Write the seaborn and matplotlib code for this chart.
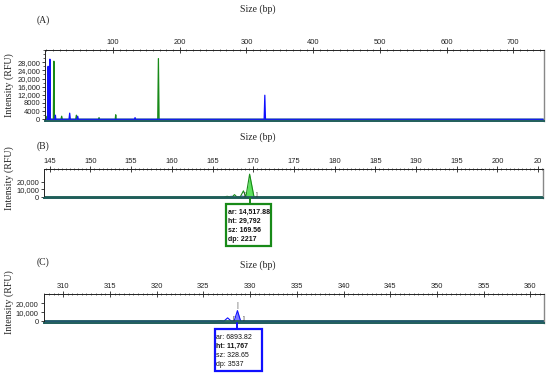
import matplotlib.pyplot as plt
import seaborn as sns
from matplotlib.patches import Rectangle
from matplotlib.lines import Line2D
from matplotlib.ticker import MultipleLocator, FixedLocator

# --- data ---
# panel A: whole run
a_blue_x = [-1, 2.0, 2.7, 3.4, 4.6, 5.3, 6.0, 13.0, 13.6, 14.2, 34.0, 35.0, 36.0, 46.0, 47.0, 48.0,
            132.0, 133.0, 134.0, 326.5, 327.5, 328.5, 745]
a_blue_y = [0, 0, 26000, 0, 0, 29500, 0, 0, 2000, 0, 0, 3000, 0, 0, 1500, 0,
            0, 800, 0, 0, 11800, 0, 0]
a_green_x = [-1, 0.5, 1.2, 2.0, 10.5, 11.3, 12.1, 22.0, 23.0, 24.0, 44.0, 45.0, 46.0, 78.0, 79.0, 80.0,
             103.3, 104.0, 104.7, 167.0, 168.0, 169.0, 745]
a_green_y = [0, 0, 1500, 0, 0, 28500, 0, 0, 1500, 0, 0, 2000, 0, 0, 800, 0,
             0, 2200, 0, 0, 29800, 0, 0]
a_yticks = [0, 4000, 8000, 12000, 16000, 20000, 24000, 28000]
a_yticklabels = ["0", "4000", "8000", "12,000", "16,000", "20,000", "24,000", "28,000"]
a_xticks = [100, 200, 300, 400, 500, 600, 700]

# panel B: green allele zoom
b_green_x = [144.3, 166.4, 166.8, 167.2, 167.4, 167.7, 168.0, 168.4, 168.8, 169.1, 169.56, 170.1, 205.6]
b_green_y = [0, 0, 900, 0, 0, 3100, 0, 0, 8000, 0, 29792, 0, 0]
b_blue_x = [144.3, 166.9, 167.3, 167.7, 168.3, 168.7, 169.0, 205.6]
b_blue_y = [0, 0, 1200, 0, 0, 1500, 0, 0]
b_peak_x = [169.1, 169.56, 170.1]
b_peak_y = [0, 29792, 0]
b_xticks = [145, 150, 155, 160, 165, 170, 175, 180, 185, 190, 195, 200, 205]
b_xticklabels = ["145", "150", "155", "160", "165", "170", "175", "180", "185", "190", "195", "200", "20"]
b_info = ["ar: 14,517.88", "ht: 29,792", "sz: 169.56", "dp: 2217"]

# panel C: blue allele zoom
c_blue_x = [307.9, 327.2, 327.6, 328.0, 328.3, 328.65, 329.0, 361.5]
c_blue_y = [0, 0, 3700, 0, 0, 11767, 0, 0]
c_green_x = [307.9, 326.4, 326.8, 327.2, 361.5]
c_green_y = [0, 0, 600, 0, 0]
c_peak_x = [328.3, 328.65, 329.0]
c_peak_y = [0, 11767, 0]
c_xticks = [310, 315, 320, 325, 330, 335, 340, 345, 350, 355, 360]
c_info = ["ar: 6893.82", "ht: 11,767", "sz: 328.65", "dp: 3537"]
bc_yticks = [0, 10000, 20000]
bc_yticklabels = ["0", "10,000", "20,000"]

BLUE = "#1010ff"
GREEN = "#188a18"
TEAL = "#1f5d5a"
W, H = 550, 376

sns.set_style("white")
plt.rcParams['font.family'] = ['Liberation Sans', 'DejaVu Sans']
fig = plt.figure(figsize=(W / 100, H / 100), dpi=100)


def make_axes(left, top, right, bottom):
    # pixel box (from top-left) -> figure fraction
    return fig.add_axes([left / W, 1 - bottom / H, (right - left) / W, (bottom - top) / H])


def style_axes(ax, xlim, ylim, xticks, xminor, yticks, ylabels, yminor=None, xlabels=None):
    ax.set_xlim(*xlim)
    ax.set_ylim(*ylim)
    ax.xaxis.tick_top()
    ax.xaxis.set_major_locator(FixedLocator(xticks))
    ax.xaxis.set_minor_locator(MultipleLocator(xminor))
    if xlabels is not None:
        ax.set_xticklabels(xlabels)
    ax.set_yticks(yticks)
    ax.set_yticklabels(ylabels)
    if yminor:
        ax.yaxis.set_minor_locator(MultipleLocator(yminor))
    ax.tick_params(axis='x', which='major', direction='inout', length=4, width=0.6,
                   labelsize=5.4, pad=1, colors='#222222')
    ax.tick_params(axis='x', which='minor', direction='inout', length=2, width=0.5, colors='#333333')
    ax.tick_params(axis='y', which='major', direction='out', length=2.5, width=0.6,
                   labelsize=5.4, pad=1, colors='#222222', left=True)
    ax.tick_params(axis='y', which='minor', direction='out', length=1.5, width=0.5, left=True)
    ax.set_xlabel("")
    ax.set_ylabel("")
    for s in ['top', 'left']:
        ax.spines[s].set_color('#222222')
        ax.spines[s].set_linewidth(0.7)
    ax.spines['right'].set_color('#888888')
    ax.spines['right'].set_linewidth(1.0)
    ax.spines['bottom'].set_color(TEAL)
    ax.spines['bottom'].set_linewidth(1.4)


def trace(ax, x, y, color, lw=0.9):
    sns.lineplot(x=x, y=y, ax=ax, color=color, linewidth=lw, estimator=None, sort=False)


serif = ['Liberation Serif', 'DejaVu Serif']

# --- A ---
axA = make_axes(45, 50, 544, 121)
trace(axA, a_green_x, a_green_y, GREEN)
trace(axA, a_blue_x, a_blue_y, BLUE)
style_axes(axA, (-2, 746), (-850, 34000), a_xticks, 10, a_yticks, a_yticklabels, yminor=2000)

# --- B ---
axB = make_axes(44, 169, 543, 198)
trace(axB, b_blue_x, b_blue_y, "#6a6aff", lw=0.6)
axB.fill_between(b_peak_x, b_peak_y, color="#5ee25e", linewidth=0)
trace(axB, b_green_x, b_green_y, GREEN, lw=0.8)
axB.axhline(0, color=TEAL, linewidth=1.2)
style_axes(axB, (144.3, 205.6), (-1300, 36500), b_xticks, 0.5, bc_yticks, bc_yticklabels,
           xlabels=b_xticklabels)
axB.text(b_peak_x[0] - 0.15, 0, "[", fontsize=4.5, ha='center', va='bottom', color='#333333')
axB.text(b_peak_x[2] + 0.3, 0, "]", fontsize=4.5, ha='center', va='bottom', color='#333333')

# --- C ---
axC = make_axes(43.5, 294, 543.5, 322.5)
trace(axC, c_green_x, c_green_y, GREEN, lw=0.6)
axC.fill_between(c_peak_x, c_peak_y, color="#7c7cff", linewidth=0)
trace(axC, c_blue_x, c_blue_y, BLUE, lw=0.8)
axC.axhline(0, color=TEAL, linewidth=1.2)
style_axes(axC, (307.9, 361.4), (-1450, 30200), c_xticks, 0.5, bc_yticks, bc_yticklabels)
axC.text(c_peak_x[0] - 0.1, 0, "[", fontsize=4.5, ha='center', va='bottom', color='#333333')
axC.text(c_peak_x[2] + 0.3, 0, "]", fontsize=4.5, ha='center', va='bottom', color='#333333')
axC.text(c_peak_x[1], 14000, "|", fontsize=5, ha='center', va='bottom', color='#555555')

# --- titles / labels ---
for ypix, ylab in [(9, 85), (137, 178), (265, 302)]:
    fig.text(258 / W, 1 - ypix / H, "Size (bp)", family=serif, fontsize=7, ha='center', va='center')
    fig.text(9 / W, 1 - ylab / H, "Intensity (RFU)", family=serif, fontsize=7.2,
             rotation=90, ha='center', va='center')
for ypix, tag in [(20, "(A)"), (146, "(B)"), (262, "(C)")]:
    fig.text(43 / W, 1 - ypix / H, tag, family=serif, fontsize=7, ha='center', va='center')


# --- peak info boxes ---
def info_box(ax, peak_x, box, lines, color, bold_rows):
    left, top, right, bottom = box
    fig.patches.append(Rectangle((left / W, 1 - bottom / H), (right - left) / W, (bottom - top) / H,
                                 transform=fig.transFigure, fill=True, facecolor='white',
                                 edgecolor=color, linewidth=1.6))
    # vertical connector from the peak (axes bottom) down to the box
    px = ax.transData.transform((peak_x, 0))[0] / W
    y_axes_bottom = ax.get_position().y0
    fig.add_artist(Line2D([px, px], [y_axes_bottom, 1 - top / H], transform=fig.transFigure,
                          color=color, linewidth=1.4))
    step = (bottom - top - 6) / len(lines)
    for i, t in enumerate(lines):
        fig.text((left + 1.5) / W, 1 - (top + 4 + step * (i + 0.5)) / H, t, fontsize=5.0,
                 ha='left', va='center', color='#111111',
                 weight='bold' if i in bold_rows else 'normal')


fig.canvas.draw()
info_box(axB, b_peak_x[1], (226, 204, 271, 246), b_info, GREEN, [0, 1, 2, 3])
info_box(axC, c_peak_x[1], (215, 329, 262, 371), c_info, BLUE, [1])

fig.savefig("out.png", dpi=100)
